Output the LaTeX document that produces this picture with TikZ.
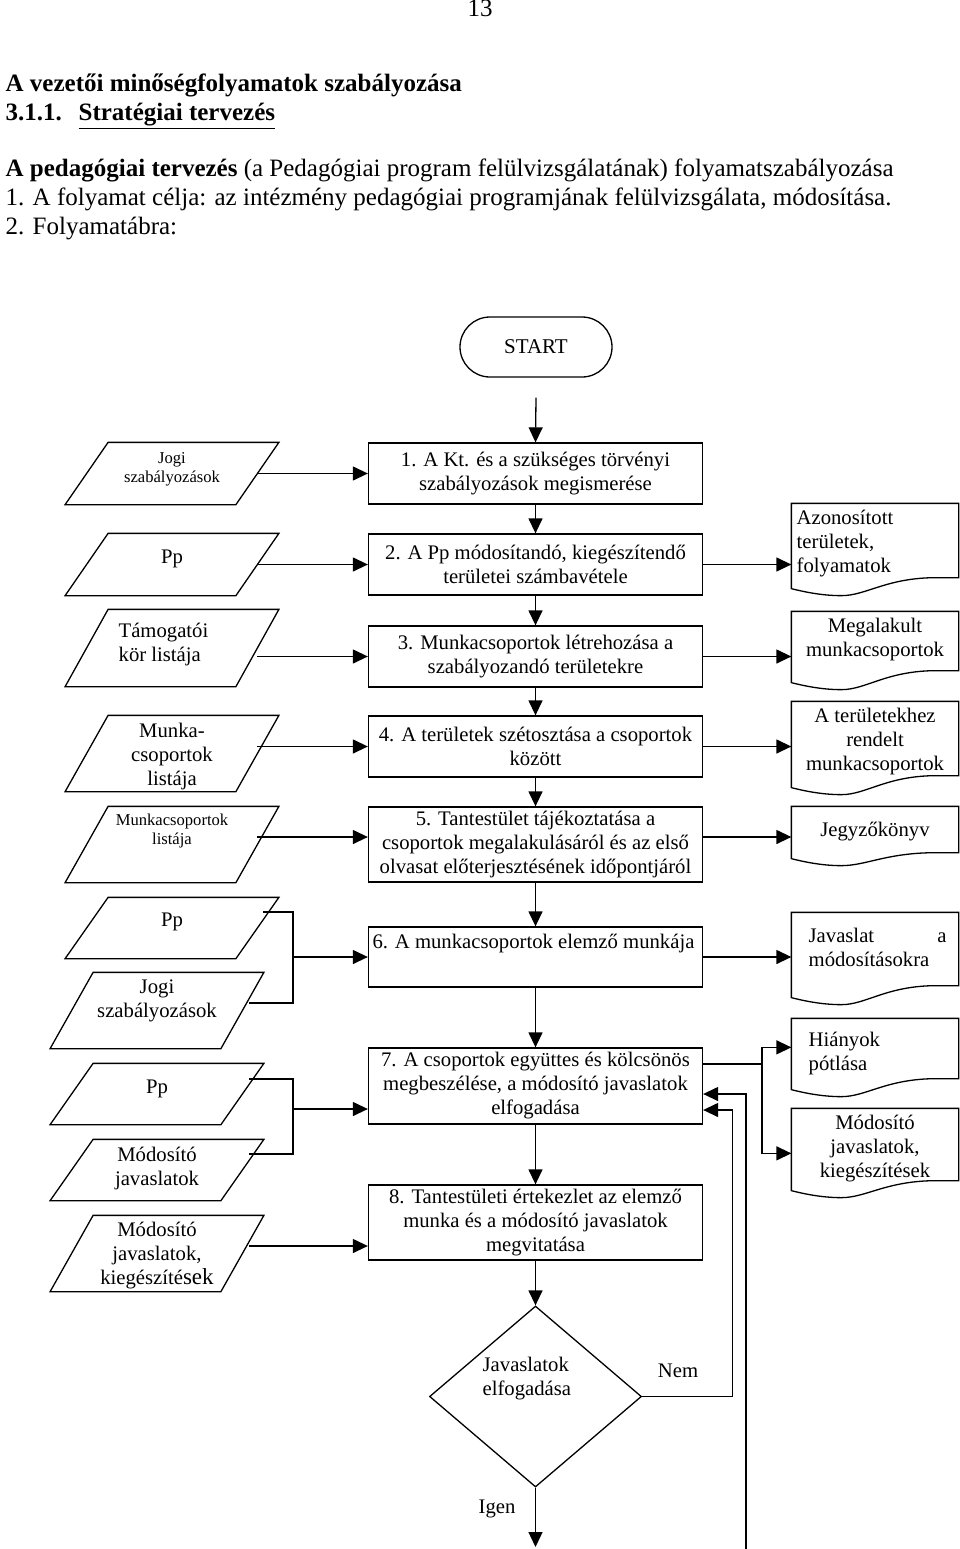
\documentclass[tikz,border=0pt]{standalone}
\usepackage{fontspec}
\setmainfont{Liberation Serif}
\usetikzlibrary{arrows.meta,shapes.geometric}
\newcommand\myfont{\fontsize{20.7}{24}\selectfont}
\newcommand\mysmall{\fontsize{16.6}{19}\selectfont}
\newcommand\myhead{\fontsize{25}{29}\selectfont}
\newcommand\mypara[1]{\draw ([xshift=21.5pt]#1.north west) -- ([xshift=21.5pt]#1.north east) -- ([xshift=-21.5pt]#1.south east) -- ([xshift=-21.5pt]#1.south west) -- cycle;}
\newcommand\mydoc[2]{\draw (#1.north west) -- (#1.north east) -- ([yshift=#2pt]#1.south east) -- ([xshift=-22pt,yshift=#2pt]#1.south east) .. controls ([xshift=95pt,yshift=#2pt]#1.south west) and ([xshift=75pt,yshift=-7pt]#1.south west) .. ([xshift=50pt,yshift=-7pt]#1.south west) .. controls ([xshift=30pt,yshift=-7pt]#1.south west) and ([xshift=12pt,yshift=-3pt]#1.south west) .. (#1.south west) -- cycle;}
\tikzset{
 arr/.style={-{Triangle[length=15pt,width=14pt]}},
 box/.style={draw, minimum width=334pt, minimum height=61pt, inner sep=0pt, align=center, font=\myfont},
 para/.style={minimum width=169.5pt, inner sep=0pt},
 docn/.style={minimum width=166pt, inner sep=0pt},
 tx/.style={inner sep=0pt, font=\myfont, align=center},
 txs/.style={inner sep=0pt, font=\mysmall, align=center},
 hd/.style={inner sep=0pt, anchor=base west, font=\myhead},
}
\begin{document}
\begin{tikzpicture}[x=1pt, y=-1pt, line width=1.3pt]
\useasboundingbox (0,0) rectangle (960,1549);
% header
\node[hd, anchor=base] (pg) at (480,17) {13};
\node[hd] (h1) at (5,92) {\bfseries A vezetői minőségfolyamatok szabályozása};
\node[hd] (h2a) at (5,121) {\bfseries 3.1.1.};
\node[hd] (h2b) at (78,121) {\bfseries\underline{Stratégiai tervezés}};
\node[hd] (h3) at (5,177) {{\bfseries A pedagógiai tervezés} (a Pedagógiai program felülvizsgálatának) folyamatszabályozása};
\node[hd] (h4) at (5,205) {1. A folyamat célja: az intézmény pedagógiai programjának felülvizsgálata, módosítása.};
\node[hd] (h5) at (5,234) {2. Folyamatábra:};
% start
\node[draw, rounded corners=30pt, minimum width=152pt, minimum height=60pt, inner sep=0pt, font=\fontsize{21}{24}\selectfont] (start) at (536,347) {START};
% main boxes
\node[box] (b1) at (535.5,473.5) {1. A Kt. és a szükséges törvényi\\szabályozások megismerése};
\node[box] (b2) at (535.5,564.5) {2. A Pp módosítandó, kiegészítendő\\területei számbavétele};
\node[box] (b3) at (535.5,656.5) {3. Munkacsoportok létrehozása a\\szabályozandó területekre};
\node[box] (b4) at (535.5,746.5) {4. A területek szétosztása a csoportok\\között};
\node[box, minimum height=75pt] (b5) at (535.5,844.5) {5. Tantestület tájékoztatása a\\csoportok megalakulásáról és az első\\olvasat előterjesztésének időpontjáról};
\node[box, minimum height=60pt, text height=15pt, text depth=33pt] (b6) at (535.5,957) {\makebox[326pt][l]{6. A munkacsoportok elemző munkája}};
\node[box, minimum height=76pt] (b7) at (535.5,1086) {7. A csoportok együttes és kölcsönös\\megbeszélése, a módosító javaslatok\\elfogadása};
\node[box, minimum height=75pt] (b8) at (535.5,1222.5) {8. Tantestületi értekezlet az elemző\\munka és a módosító javaslatok\\megvitatása};
\node[draw, diamond, minimum width=212pt, minimum height=181pt, inner sep=0pt] (dia) at (535.5,1396.5) {};
\node[tx, anchor=west, align=left] (tdia) at (482,1378.75) {Javaslatok\\elfogadása};
\node[tx] (nem) at (678,1371) {Nem};
\node[tx] (igent) at (497,1508.5) {Igen};
% parallelograms
\node[para, minimum height=61pt] (p1) at (172,473.5) {}; \mypara{p1}
\node[para, minimum height=61pt] (p2) at (172,564.5) {}; \mypara{p2}
\node[para, minimum height=76pt] (p3) at (172,648) {}; \mypara{p3}
\node[para, minimum height=75pt] (p4) at (172,753.5) {}; \mypara{p4}
\node[para, minimum height=75pt] (p5) at (172,844.5) {}; \mypara{p5}
\node[para, minimum height=60pt] (p6) at (172,928) {}; \mypara{p6}
\node[para, minimum height=75pt] (p7) at (157,1010.5) {}; \mypara{p7}
\node[para, minimum height=60pt] (p8) at (157,1094) {}; \mypara{p8}
\node[para, minimum height=60pt] (p9) at (157,1170) {}; \mypara{p9}
\node[para, minimum height=75pt] (p10) at (157,1253.5) {}; \mypara{p10}
\node[txs] (tp1) at (172,469) {Jogi\\szabályozások};
\node[tx] (tp2) at (172,558.5) {Pp};
\node[tx, anchor=west, align=left] (tp3) at (118,645) {Támogatói\\kör listája};
\node[tx] (tp4) at (172,756.75) {Munka-\\csoportok\\listája};
\node[txs] (tp5) at (172,830.75) {Munkacsoportok\\listája};
\node[tx] (tp6) at (172,921.5) {Pp};
\node[tx] (tp7) at (157,1000.75) {Jogi\\szabályozások};
\node[tx] (tp8) at (157,1088.5) {Pp};
\node[tx] (tp9) at (157,1168.75) {Módosító\\javaslatok};
\node[tx] (tp10) at (157,1255.75) {Módosító\\javaslatok,\\kiegészíté{\fontsize{23}{24}\selectfont sek}};
% documents
\node[docn, minimum height=84pt] (d1) at (875,546) {}; \mydoc{d1}{11}
\node[docn, minimum height=70pt] (d2) at (875,647) {}; \mydoc{d2}{12}
\node[docn, minimum height=85pt] (d3) at (875,744.5) {}; \mydoc{d3}{12}
\node[docn, minimum height=51pt] (d4) at (875,832.5) {}; \mydoc{d4}{6}
\node[docn, minimum height=84pt] (d5) at (875,955) {}; \mydoc{d5}{12}
\node[docn, minimum height=70pt] (d6) at (875,1054) {}; \mydoc{d6}{11}
\node[docn, minimum height=81pt] (d7) at (875,1149.5) {}; \mydoc{d7}{10}
\node[tx, anchor=west, align=left] (td1) at (796,543.75) {Azonosított\\területek,\\folyamatok};
\node[tx] (td2) at (875,639.75) {Megalakult\\munkacsoportok};
\node[tx] (td3) at (875,741.75) {A területekhez\\rendelt\\munkacsoportok};
\node[tx] (td4) at (875,831.5) {Jegyzőkönyv};
\node[tx, anchor=west, align=left] (td5) at (808,947.75) {\makebox[138pt][l]{Javaslat\hfill a}\\módosításokra};
\node[tx, anchor=west, align=left] (td6) at (808,1053.25) {Hiányok\\pótlása};
\node[tx] (td7) at (875,1148.75) {Módosító\\javaslatok,\\kiegészítések};
% main flow
\draw[arr] ([yshift=-20pt]start.south) -- (b1.north);
\draw[arr] (b1.south) -- (b2.north);
\draw[arr] (b2.south) -- (b3.north);
\draw[arr] (b3.south) -- (b4.north);
\draw[arr] (b4.south) -- (b5.north);
\draw[arr] (b5.south) -- (b6.north);
\draw[arr] (b6.south) -- (b7.north);
\draw[arr] (b7.south) -- (b8.north);
\draw[arr] (b8.south) -- (dia.north);
% inputs
\draw[arr] (p1.east) -- (b1.west);
\draw[arr] (p2.east) -- (b2.west);
\draw[arr] (p3.east |- b3.west) -- (b3.west);
\draw[arr] (p4.east |- b4.west) -- (b4.west);
\draw[arr] ([yshift=7.5pt]p5.east) -- ([yshift=7.5pt]b5.west);
\coordinate (j1) at (293,957);
\draw ([xshift=6pt,yshift=16pt]p6.east) -| (j1) |- ([xshift=6.5pt,yshift=7.5pt]p7.east);
\draw[arr] (j1) -- (b6.west);
\coordinate (j2) at (293,1109);
\draw ([xshift=6.5pt,yshift=15pt]p8.east) -| (j2) |- ([xshift=6.5pt,yshift=16pt]p9.east);
\draw[arr] (j2) -- (j2 -| b7.west);
\coordinate (p10o) at ([xshift=6.5pt,yshift=7.5pt]p10.east);
\draw[arr] (p10o) -- (p10o -| b8.west);
% outputs
\draw[arr] (b2.east) -- (b2.east -| d1.west);
\draw[arr] (b3.east) -- (b3.east -| d2.west);
\draw[arr] (b4.east) -- (b4.east -| d3.west);
\coordinate (b5o) at ([yshift=7.5pt]b5.east);
\draw[arr] (b5o) -- (b5o -| d4.west);
\draw[arr] (b6.east) -- (b6.east -| d5.west);
\coordinate (j3) at (762,1064);
\draw ([yshift=22pt]b7.east) -- (j3);
\draw[arr] (j3) |- ([yshift=-29pt]d6.north west);
\draw[arr] (j3) |- ([yshift=-45pt]d7.north west);
% loops
\draw[arr] (dia.east) -- ++(90pt,0) |- ([yshift=-24pt]b7.east);
\coordinate (offp) at (746,1549);
\draw[arr] (offp) |- ([yshift=-8pt]b7.east);
\coordinate (igen) at (535.5,1547);
\draw[arr] (dia.south) -- (igen);
\end{tikzpicture}
\end{document}
